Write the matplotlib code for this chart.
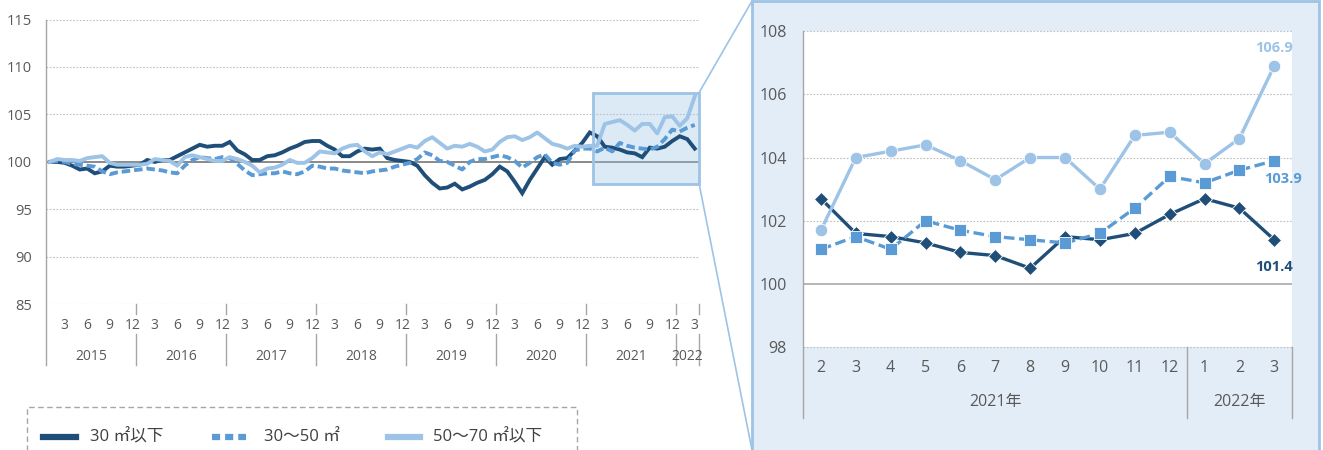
import matplotlib
matplotlib.use('Agg')
import matplotlib.pyplot as plt
from matplotlib.lines import Line2D
from matplotlib.patches import Rectangle
import numpy as np

plt.rcParams['font.family'] = ['Open Sans', 'Noto Sans CJK JP', 'DejaVu Sans']

# ---------------- data ----------------
years = ['2015', '2016', '2017', '2018', '2019', '2020', '2021', '2022']
month_labels = (['', '', '3', '', '', '6', '', '', '9', '', '', '12'] * 7) + ['', '', '3']
series_names = ['30 ㎡以下', '30～50 ㎡', '50～70 ㎡以下']

small = [100.0, 100.0, 99.9, 99.6, 99.2, 99.3, 98.8, 99.0, 99.6, 99.5, 99.5, 99.6,
         99.7, 100.2, 100.0, 100.2, 100.2, 100.6, 101.0, 101.4, 101.8, 101.6, 101.7, 101.7,
         102.1, 101.2, 100.8, 100.2, 100.2, 100.6, 100.7, 101.0, 101.4, 101.7, 102.1, 102.2,
         102.2, 101.7, 101.3, 100.6, 100.6, 101.1, 101.4, 101.3, 101.4, 100.4, 100.2, 100.1,
         100.0, 99.6, 98.6, 97.8, 97.2, 97.3, 97.7, 97.1, 97.4, 97.8, 98.1, 98.7,
         99.5, 99.0, 97.9, 96.7, 98.1, 99.3, 100.5, 99.7, 100.3, 100.4, 101.2, 102.0,
         103.1, 102.7, 101.6, 101.5, 101.3, 101.0, 100.9, 100.5, 101.5, 101.4, 101.6, 102.2,
         102.7, 102.4, 101.4]
mid = [100.0, 100.1, 100.0, 99.8, 99.7, 99.6, 99.5, 99.0, 98.7, 98.9, 99.0, 99.1,
       99.2, 99.3, 99.2, 99.1, 98.9, 98.8, 99.6, 100.2, 100.5, 100.4, 100.3, 100.5,
       100.4, 99.8, 99.1, 98.6, 98.7, 98.8, 98.8, 99.0, 98.8, 98.7, 99.0, 99.6,
       99.5, 99.3, 99.3, 99.1, 99.0, 98.9, 98.8, 99.0, 99.1, 99.2, 99.5, 99.7,
       99.9, 100.3, 101.0, 100.7, 100.1, 100.0, 99.6, 99.2, 100.0, 100.3, 100.3, 100.5,
       100.7, 100.5, 100.1, 99.4, 99.9, 100.5, 100.8, 99.9, 99.7, 99.9, 101.2, 101.4,
       101.4, 101.1, 101.5, 101.1, 102.0, 101.7, 101.5, 101.4, 101.3, 101.6, 102.4, 103.4,
       103.2, 103.6, 103.9]
large = [100.0, 100.3, 100.2, 100.2, 100.1, 100.4, 100.5, 100.6, 99.9, 99.7, 99.7, 99.7,
         99.7, 99.8, 100.3, 100.2, 100.1, 99.6, 100.5, 100.7, 100.5, 100.3, 100.1, 100.1,
         100.5, 100.3, 100.0, 99.6, 98.9, 99.3, 99.4, 99.7, 100.2, 99.9, 99.9, 100.4,
         101.1, 101.0, 100.9, 101.4, 101.7, 101.8, 101.1, 100.6, 101.0, 100.8, 101.1, 101.4,
         101.7, 101.5, 102.2, 102.6, 102.0, 101.4, 101.7, 101.6, 101.9, 101.6, 101.1, 101.3,
         102.1, 102.6, 102.7, 102.3, 102.6, 103.1, 102.5, 101.9, 101.7, 101.4, 101.7, 101.6,
         101.7, 101.7, 104.0, 104.2, 104.4, 103.9, 103.3, 104.0, 104.0, 103.0, 104.7, 104.8,
         103.8, 104.6, 106.9]

zoom_start = 73  # Feb 2021
zoom_month_labels = ['2', '3', '4', '5', '6', '7', '8', '9', '10', '11', '12', '1', '2', '3']
zoom_years = ['2021年', '2022年']

# ---------------- styles ----------------
C_DARK = '#1F4E79'
C_MID = '#5B9BD5'
C_LIGHT = '#9DC3E6'
C_TXT = '#595959'
C_GRID = '#BFBFBF'
PANEL_BG = '#E2EDF7'

W, H = 1323, 450
fig = plt.figure(figsize=(W / 100, H / 100), dpi=100)


def fx(px):
    return px / W


def fy(py):
    return 1 - py / H


PT = 0.72  # points per pixel

# ---------------- left chart ----------------
L_l, L_r, L_t, L_b = 46, 698.5, 19.5, 304.3
axL = fig.add_axes([fx(L_l), fy(L_b), fx(L_r) - fx(L_l), fy(L_t) - fy(L_b)])
axL.set_facecolor('none')
n = len(small)
x = np.arange(n)
axL.set_xlim(-0.5, n - 0.5)
axL.set_ylim(85, 115)
for v in [85, 90, 95, 105, 110, 115]:
    axL.axhline(v, color=C_GRID, lw=0.8, ls=(0, (1.5, 1.5)), zorder=0)
axL.axhline(100, color='#808080', lw=1.3, zorder=1)
for s in axL.spines.values():
    s.set_visible(False)
axL.set_yticks(range(85, 116, 5))
axL.tick_params(axis='y', length=0, pad=10, labelsize=10.5, labelcolor=C_TXT)
axL.set_xticks([])

# highlight rectangle
axL.add_patch(Rectangle((72.4, 97.7), 86.57 - 72.4, 107.3 - 97.7, facecolor=C_LIGHT,
                        alpha=0.35, edgecolor='none', zorder=1.5, clip_on=False))
axL.add_patch(Rectangle((72.4, 97.7), 86.57 - 72.4, 107.3 - 97.7, facecolor='none',
                        edgecolor=C_LIGHT, lw=2, zorder=6, clip_on=False))

axL.plot(x, small, color=C_DARK, lw=2.8, zorder=3, solid_joinstyle='miter')
axL.plot(x, mid, color=C_MID, lw=2.8, ls=(0, (2.2, 1.0)), zorder=4)
axL.plot(x, large, color=C_LIGHT, lw=2.8, zorder=5)

ah = L_b - L_t
xt = axL.get_xaxis_transform()
for i, lab in enumerate(month_labels):
    if lab:
        axL.annotate(lab, (i, 0), xycoords=xt, xytext=(0, -21 * PT), textcoords='offset points',
                     ha='center', va='center', fontsize=10, color=C_TXT)
bounds = [11.5 + 12 * k for k in range(7)] + [n - 0.5]
for b in bounds:
    axL.add_line(Line2D([b, b], [0, -10 / ah], transform=xt, color='#A6A6A6', lw=1, clip_on=False))
    axL.add_line(Line2D([b, b], [-30 / ah, -61 / ah], transform=xt, color='#A6A6A6', lw=1, clip_on=False))
starts = [-0.5] + bounds[:-1]
for yr, a, b in zip(years, starts, bounds):
    axL.annotate(yr, ((a + b) / 2, 0), xycoords=xt, xytext=(0, -52 * PT), textcoords='offset points',
                 ha='center', va='center', fontsize=10, color=C_TXT)
fig.add_artist(Line2D([fx(L_l), fx(L_l)], [fy(L_t), fy(365)], color='#A6A6A6', lw=1))

# legend box
fig.add_artist(Rectangle((fx(27), fy(470)), fx(577) - fx(27), fy(407) - fy(470), facecolor='none',
                         edgecolor='#A6A6A6', lw=1, ls=(0, (4, 2.5))))
leg_y = 437
leg_items = [(43, 76, 90, C_DARK, '-'), (212, 246, 264, C_MID, (0, (1.3, 0.8))),
             (388, 420, 433, C_LIGHT, '-')]
for (h0, h1, tx, col, ls), name in zip(leg_items, series_names):
    fig.add_artist(Line2D([fx(h0), fx(h1)], [fy(leg_y), fy(leg_y)], color=col, lw=4.5, ls=ls))
    fig.text(fx(tx), fy(leg_y), name, ha='left', va='center', fontsize=12, color='#404040')

# connecting lines
fig.add_artist(Line2D([fx(699), fx(752)], [fy(92.7), fy(1)], color=C_LIGHT, lw=1.2))
fig.add_artist(Line2D([fx(699), fx(752)], [fy(183.3), fy(450)], color=C_LIGHT, lw=1.2))

# ---------------- right panel ----------------
panel = Rectangle((fx(752), fy(452)), fx(1319) - fx(752), fy(1) - fy(452), facecolor=PANEL_BG,
                  edgecolor=C_LIGHT, lw=2, transform=fig.transFigure, zorder=-5)
fig.add_artist(panel)

R_l, R_r, R_t, R_b = 803.5, 1291.7, 31, 347.3
axR = fig.add_axes([fx(R_l), fy(R_b), fx(R_r) - fx(R_l), fy(R_t) - fy(R_b)])
axR.set_facecolor('white')
m = len(zoom_month_labels)
xr = np.arange(m)
axR.set_xlim(-0.5, m - 0.5)
axR.set_ylim(98, 108)
for v in [98, 102, 104, 106, 108]:
    axR.axhline(v, color=C_GRID, lw=0.8, ls=(0, (1.5, 1.5)), zorder=0, clip_on=False)
axR.axhline(100, color='#B0B0B0', lw=1.3, zorder=1)
for s in axR.spines.values():
    s.set_visible(False)
axR.set_yticks(range(98, 109, 2))
axR.tick_params(axis='y', length=0, pad=12, labelsize=11.5, labelcolor=C_TXT)
axR.set_xticks([])

ys = small[zoom_start:]
ym = mid[zoom_start:]
yl = large[zoom_start:]
axR.plot(xr, ys, color=C_DARK, lw=2.4, marker='D', ms=7, mec='white', mew=0.6, zorder=3)
axR.plot(xr, ym, color=C_MID, lw=2.4, ls=(0, (3.2, 1.4)), marker='s', ms=9, mec='white', mew=0.6, zorder=4)
axR.plot(xr, yl, color=C_LIGHT, lw=2.4, marker='o', ms=9, mec='white', mew=0.6, zorder=5)

axR.annotate(f'{yl[-1]:.1f}', (xr[-1], yl[-1]), xytext=(0, 18 * PT), textcoords='offset points',
             ha='center', va='center', fontsize=10.5, fontweight='bold', color=C_LIGHT)
axR.annotate(f'{ym[-1]:.1f}', (xr[-1], ym[-1]), xytext=(9 * PT, -18 * PT), textcoords='offset points',
             ha='center', va='center', fontsize=10.5, fontweight='bold', color=C_MID)
axR.annotate(f'{ys[-1]:.1f}', (xr[-1], ys[-1]), xytext=(0, -27 * PT), textcoords='offset points',
             ha='center', va='center', fontsize=10.5, fontweight='bold', color=C_DARK)

rh = R_b - R_t
xtr = axR.get_xaxis_transform()
for i, lab in enumerate(zoom_month_labels):
    axR.annotate(lab, (i, 0), xycoords=xtr, xytext=(0, -21 * PT), textcoords='offset points',
                 ha='center', va='center', fontsize=11.5, color=C_TXT)
fig.add_artist(Line2D([fx(R_l), fx(R_l)], [fy(R_t), fy(418)], color='#A6A6A6', lw=1))
for b in [10.5, m - 0.5]:
    axR.add_line(Line2D([b, b], [0, -71 / rh], transform=xtr, color='#A6A6A6', lw=1, clip_on=False))
for yr, c in zip(zoom_years, [5, 12]):
    axR.annotate(yr, (c, 0), xycoords=xtr, xytext=(0, -55 * PT), textcoords='offset points',
                 ha='center', va='center', fontsize=11.5, color=C_TXT)

fig.savefig('out.png', dpi=100)
